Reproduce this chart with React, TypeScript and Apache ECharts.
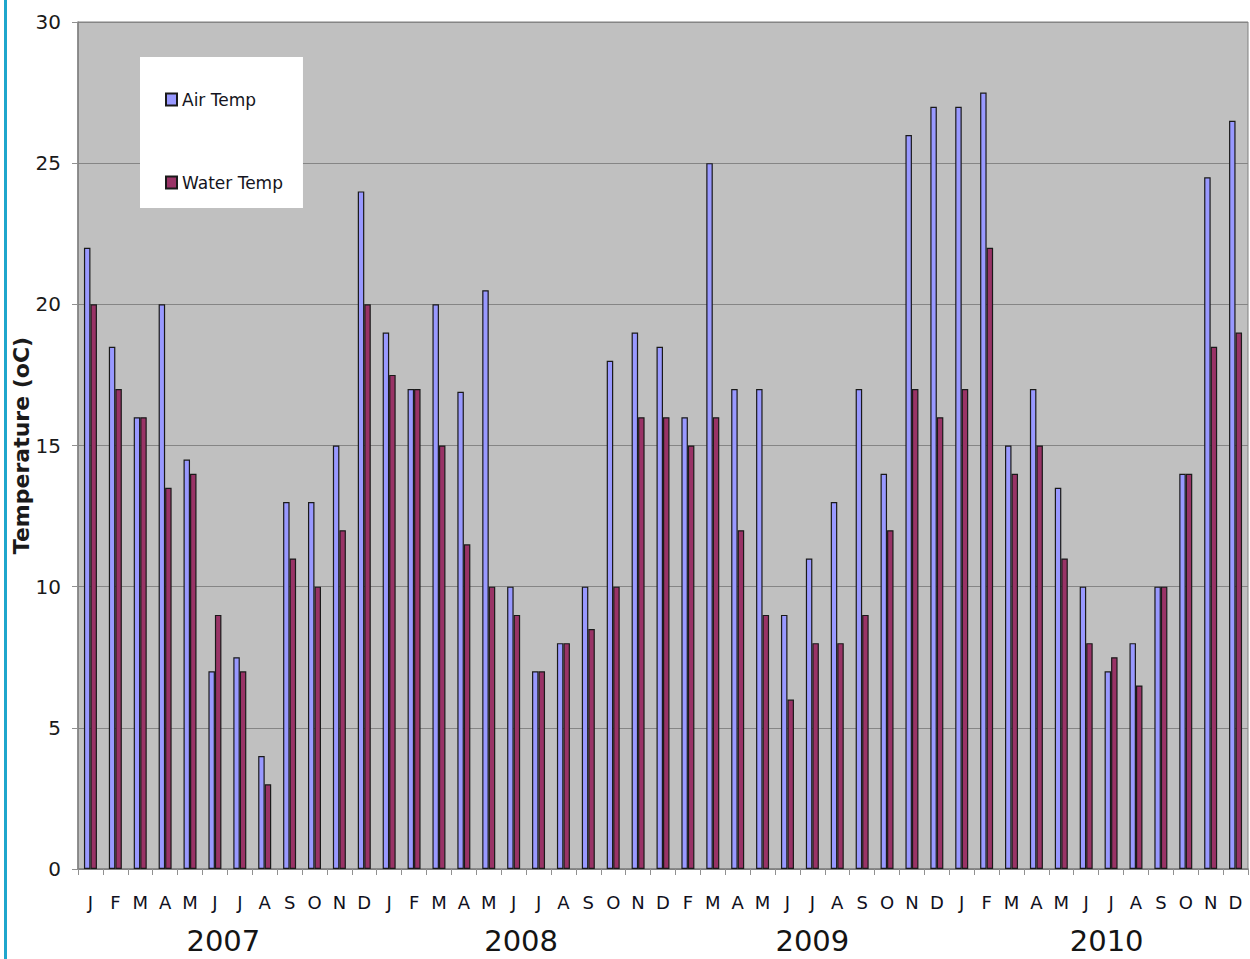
import React, { useEffect, useRef } from "react";
import * as echarts from "echarts";

// Month labels, one per bar group (2009 has no January in the source chart)
const months = [
  "J", "F", "M", "A", "M", "J", "J", "A", "S", "O", "N", "D", // 2007
  "J", "F", "M", "A", "M", "J", "J", "A", "S", "O", "N", "D", // 2008
  "F", "M", "A", "M", "J", "J", "A", "S", "O", "N", "D", // 2009
  "J", "F", "M", "A", "M", "J", "J", "A", "S", "O", "N", "D", // 2010
];
const years = ["2007", "2008", "2009", "2010"];
const monthsPerYear = [12, 12, 11, 12];

const airTemp = [
  22, 18.5, 16, 20, 14.5, 7, 7.5, 4, 13, 13, 15, 24,
  19, 17, 20, 16.9, 20.5, 10, 7, 8, 10, 18, 19, 18.5,
  16, 25, 17, 17, 9, 11, 13, 17, 14, 26, 27,
  27, 27.5, 15, 17, 13.5, 10, 7, 8, 10, 14, 24.5, 26.5,
];
const waterTemp = [
  20, 17, 16, 13.5, 14, 9, 7, 3, 11, 10, 12, 20,
  17.5, 17, 15, 11.5, 10, 9, 7, 8, 8.5, 10, 16, 16,
  15, 16, 12, 9, 6, 8, 8, 9, 12, 17, 16,
  17, 22, 14, 15, 11, 8, 7.5, 6.5, 10, 14, 18.5, 19,
];
const yTicks = { min: 0, max: 30, interval: 5 };

const FONT = '"DejaVu Sans", Verdana, sans-serif';

export default function App() {
  const ref = useRef<HTMLDivElement>(null);

  useEffect(() => {
    document.body.style.margin = "0";
    const el = ref.current!;
    const chart = echarts.init(el, null, { renderer: "svg" });
    const option: any = {
      animation: false,
      backgroundColor: "#ffffff",
      grid: {
        left: 78,
        top: 22,
        right: 2,
        bottom: 90,
        show: true,
        backgroundColor: "#c0c0c0",
        borderColor: "#808080",
        borderWidth: 1,
        containLabel: false,
        outerBoundsMode: "none",
      },
      legend: {
        orient: "vertical",
        left: 140,
        top: 57,
        backgroundColor: "#ffffff",
        padding: [34, 20, 17, 25],
        itemGap: 66,
        itemWidth: 11,
        itemHeight: 12,
        icon: "rect",
        textStyle: { fontSize: 17, lineHeight: 17, color: "#141420", fontFamily: FONT },
        data: ["Air Temp", "Water Temp"],
      },
      xAxis: {
        type: "category",
        data: months,
        boundaryGap: true,
        axisLine: { show: true, lineStyle: { color: "#808080", width: 1.5 } },
        axisTick: { show: true, interval: 0, length: 6, lineStyle: { color: "#909090" } },
        axisLabel: {
          interval: 0,
          fontSize: 18,
          margin: 24,
          color: "#101020",
          fontFamily: FONT,
        },
        splitLine: { show: false },
      },
      yAxis: {
        type: "value",
        min: yTicks.min,
        max: yTicks.max,
        interval: yTicks.interval,
        name: "Temperature (oC)",
        nameLocation: "middle",
        nameRotate: 90,
        nameGap: 46,
        nameMoveOverlap: false,
        nameTextStyle: { fontSize: 22, fontWeight: "bold", color: "#1a1a1a", fontFamily: FONT },
        axisLine: { show: true, lineStyle: { color: "#808080", width: 1.5 } },
        axisTick: { show: true, length: 6, lineStyle: { color: "#909090" } },
        axisLabel: { fontSize: 20, margin: 17, color: "#1a1a1a", fontFamily: FONT },
        splitLine: { show: true, lineStyle: { color: "#858585", width: 1 } },
      },
      series: [
        {
          name: "Air Temp",
          type: "bar",
          data: airTemp,
          barWidth: 6.5,
          barGap: "0%",
          itemStyle: { color: "#9999ff", borderColor: "#1a1a1a", borderWidth: 1.2 },
        },
        {
          name: "Water Temp",
          type: "bar",
          data: waterTemp,
          barWidth: 6.5,
          barGap: "0%",
          itemStyle: { color: "#993366", borderColor: "#1a1a1a", borderWidth: 1.2 },
        },
      ],
    };
    chart.setOption(option);

    // Year labels centred under each year's months
    const yearNudge = [-4, -5, 0, 8];
    let start = 0;
    const yearTexts = years.map((yr, i) => {
      const first = chart.convertToPixel({ xAxisIndex: 0 }, start) as number;
      const last = chart.convertToPixel({ xAxisIndex: 0 }, start + monthsPerYear[i] - 1) as number;
      start += monthsPerYear[i];
      return {
        type: "text",
        x: (first + last) / 2 + yearNudge[i],
        y: 941,
        style: {
          text: yr,
          fontSize: 29,
          fontFamily: FONT,
          fill: "#141414",
          align: "center",
          verticalAlign: "middle",
          textAlign: "center",
          textVerticalAlign: "middle",
        },
      };
    });
    chart.setOption({
      graphic: [
        {
          type: "rect",
          shape: { x: 4, y: 0, width: 3, height: 959 },
          style: { fill: "#1fa6cc" },
        },
        ...yearTexts,
      ],
    });

    return () => chart.dispose();
  }, []);

  return <div ref={ref} style={{ width: 1250, height: 959 }} />;
}
